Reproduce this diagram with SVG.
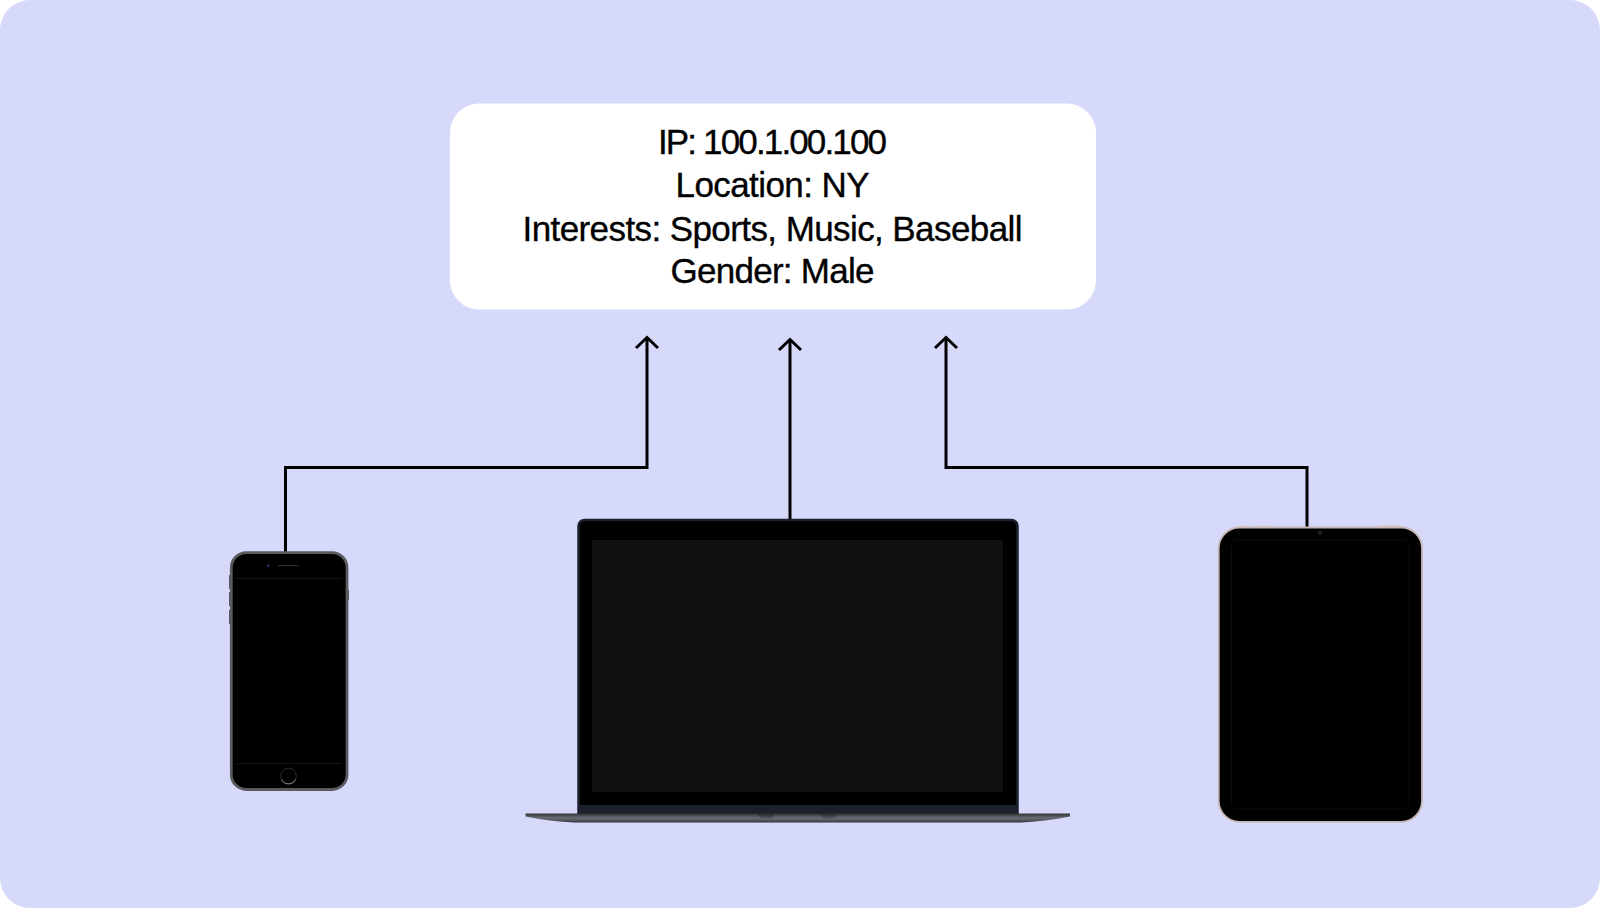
<svg xmlns="http://www.w3.org/2000/svg" width="1600" height="908" viewBox="0 0 1600 908">
<defs>
<linearGradient id="base" x1="0" y1="0" x2="0" y2="1"><stop offset="0" stop-color="#2f3339"/><stop offset=".5" stop-color="#696d72"/><stop offset=".8" stop-color="#50545a"/><stop offset="1" stop-color="#2a2e34"/></linearGradient>
<linearGradient id="notch" x1="0" y1="0" x2="0" y2="1"><stop offset="0" stop-color="#24272c"/><stop offset="1" stop-color="#55585e"/></linearGradient>
<marker id="arrow" markerUnits="userSpaceOnUse" markerWidth="20" markerHeight="28" refX="17" refY="14" orient="auto" viewBox="0 0 20 28"><path d="M7 3 L17.500 14 L7 25" fill="none" stroke="#000" stroke-width="3"/></marker>
</defs>
<style>
.lbl{font-family:"Liberation Sans",Arial,sans-serif;font-size:35px;fill:#000;stroke:#000;stroke-width:.35px;text-anchor:middle}
.wire{fill:none;stroke:#000;stroke-width:3}
</style>
<rect width="1600" height="908" fill="#fff"/>
<rect id="panel" width="1600" height="908" rx="30" fill="#d6d9fa"/>
<g id="info-card">
<rect x="450" y="103.500" width="646" height="206" rx="29" fill="#fff"/>
<text class="lbl" x="772.500" y="153.800" textLength="229" lengthAdjust="spacing">IP: 100.1.00.100</text>
<text class="lbl" x="772.500" y="197" textLength="194" lengthAdjust="spacing">Location: NY</text>
<text class="lbl" x="772.500" y="240.800" textLength="500" lengthAdjust="spacing">Interests: Sports, Music, Baseball</text>
<text class="lbl" x="772.500" y="283.300" textLength="204" lengthAdjust="spacing">Gender: Male</text>
</g>
<g id="connectors">
<path class="wire" marker-end="url(#arrow)" d="M285.500 552V467.500H647V338"/>
<path class="wire" marker-end="url(#arrow)" d="M790 520V340"/>
<path class="wire" marker-end="url(#arrow)" d="M1307 527V467.500H946V338"/>
</g>
<g id="phone">
<path d="M230 575h-1v14h1zM230 592h-1v14h1zM230 610h-1v14h1zM348 590h1v10h-1z" fill="#55585e"/>
<rect x="231.300" y="552.700" width="115.700" height="236.800" rx="15" fill="#000" stroke="#5a5b5f" stroke-width="2.800"/>
<path d="M236 578.500H342M236 763.500H342" stroke="#141416" stroke-width="1"/>
<circle cx="268.300" cy="565.700" r="1.400" fill="#2d2b55"/>
<path d="M278 565.700H299" stroke="#333337" stroke-width="1"/>
<circle cx="288.500" cy="776" r="7.800" fill="#000" stroke="#2c2c30" stroke-width="1"/>
<path d="M281.500 779.500A7.800 7.800 0 0 0 295.500 779.500" fill="none" stroke="#8a8b8f" stroke-width="1"/>
</g>
<g id="laptop">
<rect x="578.500" y="520" width="439" height="300" rx="6" fill="#000" stroke="#1b222e" stroke-width="2.500"/>
<rect x="592" y="540" width="411" height="252" fill="#101010"/>
<rect x="579" y="805" width="438" height="9" fill="#1a212c"/>
<path d="M525.500 813.500H1070V816.500Q1045 821.500 1020 822.500H575Q550 821.500 525.500 816.500Z" fill="url(#base)"/>
<path d="M757 813.500H775L772 818.500H764Q759 818 757 813.500ZM820 813.500H838Q836 818 831 818.500H823Z" fill="url(#notch)"/>
</g>
<g id="tablet">
<path d="M1237 527l1-1.500h13l1 1.500zM1256 527l1-1.500h4l1 1.500zM1265 527l1-1.500h4l1 1.500zM1378 527l1-2h23l1 2z" fill="#d8cfd0"/>
<rect x="1218.700" y="527.500" width="203.300" height="294.300" rx="21" fill="#000" stroke="#c6b6b4" stroke-width="1.800"/>
<rect x="1231.500" y="540" width="177.500" height="269" rx="6" fill="none" stroke="#0d0d0d" stroke-width="1"/>
<circle cx="1320" cy="532.800" r="2.400" fill="#1a1c22"/>
</g>
</svg>
